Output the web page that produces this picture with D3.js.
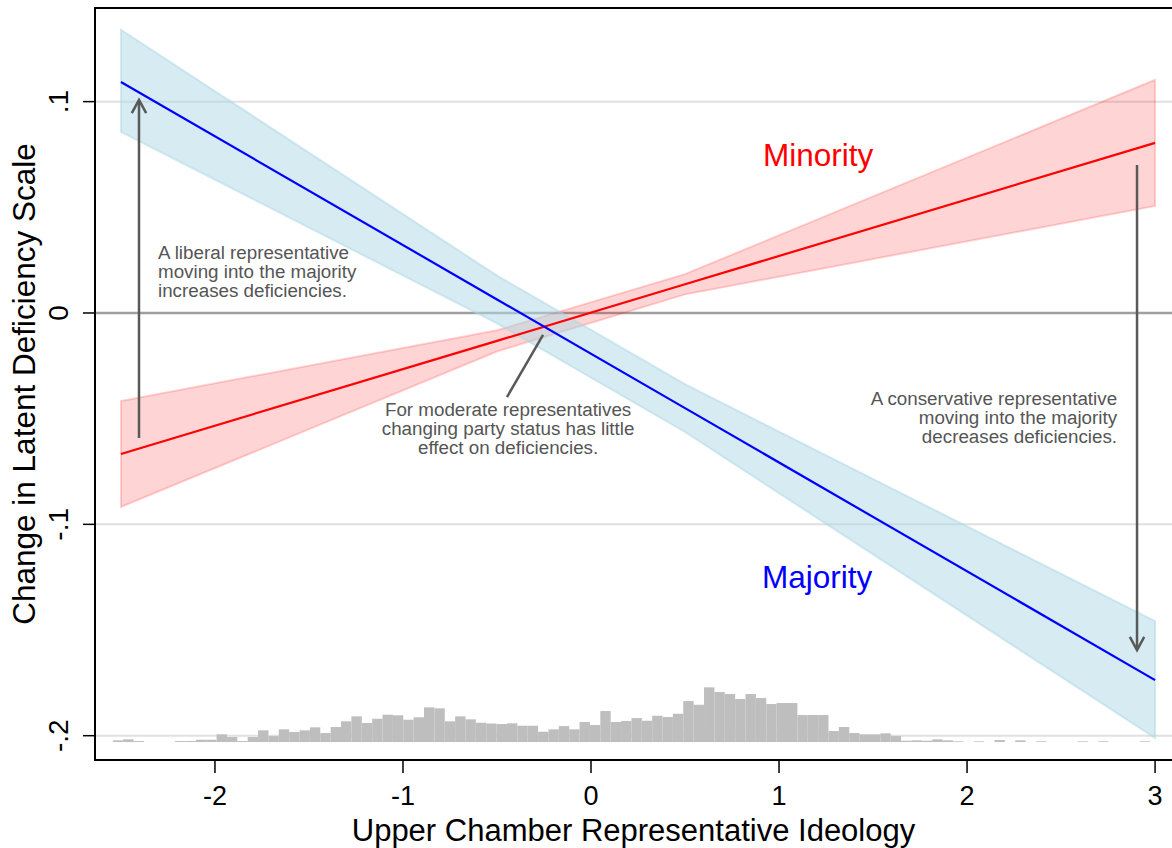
<!DOCTYPE html>
<html><head><meta charset="utf-8">
<script src="https://cdn.jsdelivr.net/npm/d3@7"></script>
<style>body{margin:0;background:#fff}svg{display:block;font-family:"Liberation Sans",Arial,sans-serif}</style>
</head><body><svg id="c" width="1172" height="848"></svg>
<script>
// ---- data ----
const bandX   = [-2.5, -0.5, 0.5, 3];
const majFit  = [0.1093, 0.0064, -0.0450, -0.1737];
const majLo   = [0.0857, -0.0049, -0.0563, -0.2011];
const majHi   = [0.1340, 0.0177, -0.0337, -0.1458];
const minFit  = [-0.0667, -0.0132, 0.0136, 0.0805];
const minLo   = [-0.0918, -0.0182, 0.0088, 0.0506];
const minHi   = [-0.0416, -0.0082, 0.0184, 0.1103];
const xTicks  = [-2, -1, 0, 1, 2, 3];
const yTicks  = [0.1, 0, -0.1, -0.2];
const yTickLabels = [".1", "0", "-.1", "-.2"];
const histStart = -2.543, histBinW = 0.05516, histBase = -0.203;
const histFreq = [1.7,2.7,1,0,0,0,1,1,2.3,2.3,
  7.7,5,1,5,11.7,6,12.7,10,11.7,14.7,
  9,15,20.7,25.7,19,23.3,27.3,26.7,22.3,24.7,
  34.7,33.7,20.7,25.7,22.7,19.3,18.5,18,18.7,16.3,
  16.3,10.3,12.7,16,12.7,20,17,31,20,21,
  24,21.3,26.3,25,28.3,41,37.3,54.7,50,48,
  43,48,44,38,39,39,27,27,27,11,
  15,9,7.7,7.7,8.7,6,1.3,1.7,1.3,2.7,
  1.7,0.7,0,0.7,0,2,0,1.7,0,0.7,
  0,0,0,0.7,0,0.7,0,0,0,0.7];
const notes = [
  {lines:["A liberal representative","moving into the majority","increases deficiencies."], x:-2.303, y:0.0255, anchor:"start"},
  {lines:["For moderate representatives","changing party status has little","effect on deficiencies."], x:-0.441, y:-0.0487, anchor:"middle"},
  {lines:["A conservative representative","moving into the majority","decreases deficiencies."], x:2.798, y:-0.0435, anchor:"end"}
];
const arrows = [
  {x1:-2.404, y1:-0.0592, x2:-2.404, y2:0.1008, head:true},
  {x1:2.904, y1:0.070, x2:2.904, y2:-0.1595, head:true},
  {x1:-0.447, y1:-0.0398, x2:-0.255, y2:-0.0104, head:false}
];

// ---- chart ----
const svg = d3.select("#c");
const L = 95, R = 1172, T = 8, B = 760;
const x = d3.scaleLinear().domain([-2.638, 3.09]).range([L, R]);
const y = d3.scaleLinear().domain([-0.2115, 0.1443]).range([B, T]);
const hy = d3.scaleLinear().domain([0, 100]).range([y(histBase), y(histBase) - 100]);

// gridlines
svg.append("g").selectAll("line").data(yTicks).join("line")
  .attr("x1", L).attr("x2", R).attr("y1", d => y(d)).attr("y2", d => y(d))
  .attr("stroke", d => d === 0 ? "#a0a0a0" : "#e0e0e0")
  .attr("stroke-width", d => d === 0 ? 2.4 : 2);

// histogram
svg.append("g").selectAll("rect").data(histFreq).join("rect")
  .attr("x", (d, i) => x(histStart + i * histBinW))
  .attr("width", (d, i) => x(histStart + (i + 1) * histBinW) - x(histStart + i * histBinW))
  .attr("y", d => hy(d)).attr("height", d => hy(0) - hy(d))
  .attr("fill", "#bebebe");

// bands
function band(lo, hi, col, op) {
  const a = d3.area().x((d, i) => x(bandX[i])).y0((d, i) => y(lo[i])).y1((d, i) => y(hi[i]));
  svg.append("path").attr("d", a(bandX))
    .attr("fill", col).attr("fill-opacity", op)
    .attr("stroke", col).attr("stroke-opacity", op).attr("stroke-width", 2)
    .attr("stroke-linejoin", "miter");
}
band(minLo, minHi, "#ff0000", 0.17);
band(majLo, majHi, "#add8e6", 0.5);

// fit lines
const ln = v => d3.line().x((d, i) => x(bandX[i])).y((d, i) => y(v[i]))(bandX);
svg.append("path").attr("d", ln(minFit)).attr("fill", "none").attr("stroke", "#ff0000").attr("stroke-width", 2.2);
svg.append("path").attr("d", ln(majFit)).attr("fill", "none").attr("stroke", "#0000ff").attr("stroke-width", 2.2);

// axes frame
svg.append("line").attr("x1", L).attr("x2", R).attr("y1", T).attr("y2", T).attr("stroke", "#000").attr("stroke-width", 2);
svg.append("line").attr("x1", L).attr("x2", L).attr("y1", T - 1).attr("y2", B + 1).attr("stroke", "#000").attr("stroke-width", 2);
svg.append("line").attr("x1", L - 1).attr("x2", R).attr("y1", B).attr("y2", B).attr("stroke", "#000").attr("stroke-width", 2);

// x ticks
const gx = svg.append("g");
gx.selectAll("line").data(xTicks).join("line")
  .attr("x1", d => x(d)).attr("x2", d => x(d)).attr("y1", B).attr("y2", B + 13)
  .attr("stroke", "#000").attr("stroke-width", 1.5);
gx.selectAll("text").data(xTicks).join("text")
  .attr("x", d => x(d)).attr("y", 805).attr("text-anchor", "middle")
  .attr("font-size", 27).attr("fill", "#000").text(d => d);

// y ticks
const gy = svg.append("g");
gy.selectAll("line").data(yTicks).join("line")
  .attr("x1", L - 12).attr("x2", L).attr("y1", d => y(d)).attr("y2", d => y(d))
  .attr("stroke", "#000").attr("stroke-width", 1.5);
gy.selectAll("text").data(yTicks).join("text")
  .attr("transform", d => `translate(68,${y(d)}) rotate(-90)`)
  .attr("text-anchor", "middle").attr("font-size", 28).attr("fill", "#000")
  .text((d, i) => yTickLabels[i]);

// axis titles
svg.append("text").attr("x", (L + R) / 2).attr("y", 841).attr("text-anchor", "middle")
  .attr("font-size", 31).attr("fill", "#000").text("Upper Chamber Representative Ideology");
svg.append("text").attr("transform", `translate(35,${(T + B) / 2}) rotate(-90)`).attr("text-anchor", "middle")
  .attr("font-size", 31.5).attr("fill", "#000").text("Change in Latent Deficiency Scale");

// series labels
svg.append("text").attr("x", x(0.915)).attr("y", y(0.0696)).attr("font-size", 31.5).attr("fill", "#ff0000").text("Minority");
svg.append("text").attr("x", x(0.910)).attr("y", y(-0.130)).attr("font-size", 31.5).attr("fill", "#0000ff").text("Majority");

// annotations
notes.forEach(n => {
  const t = svg.append("text").attr("x", x(n.x)).attr("y", y(n.y)).attr("text-anchor", n.anchor)
    .attr("font-size", 18.8).attr("fill", "#555");
  n.lines.forEach((s, i) => t.append("tspan").attr("x", x(n.x)).attr("dy", i ? 19 : 0).text(s));
});
arrows.forEach(a => {
  const x1 = x(a.x1), y1 = y(a.y1), x2 = x(a.x2), y2 = y(a.y2);
  svg.append("line").attr("x1", x1).attr("y1", y1).attr("x2", x2).attr("y2", y2)
    .attr("stroke", "#595959").attr("stroke-width", 2.5);
  if (a.head) {
    const ang = Math.atan2(y2 - y1, x2 - x1), s = 15, w = 0.5;
    const p1 = [x2 - s * Math.cos(ang - w), y2 - s * Math.sin(ang - w)];
    const p2 = [x2 - s * Math.cos(ang + w), y2 - s * Math.sin(ang + w)];
    svg.append("path").attr("d", `M${p1}L${x2},${y2}L${p2}`).attr("fill", "none")
      .attr("stroke", "#595959").attr("stroke-width", 2.5).attr("stroke-linejoin", "miter");
  }
});
</script></body></html>
